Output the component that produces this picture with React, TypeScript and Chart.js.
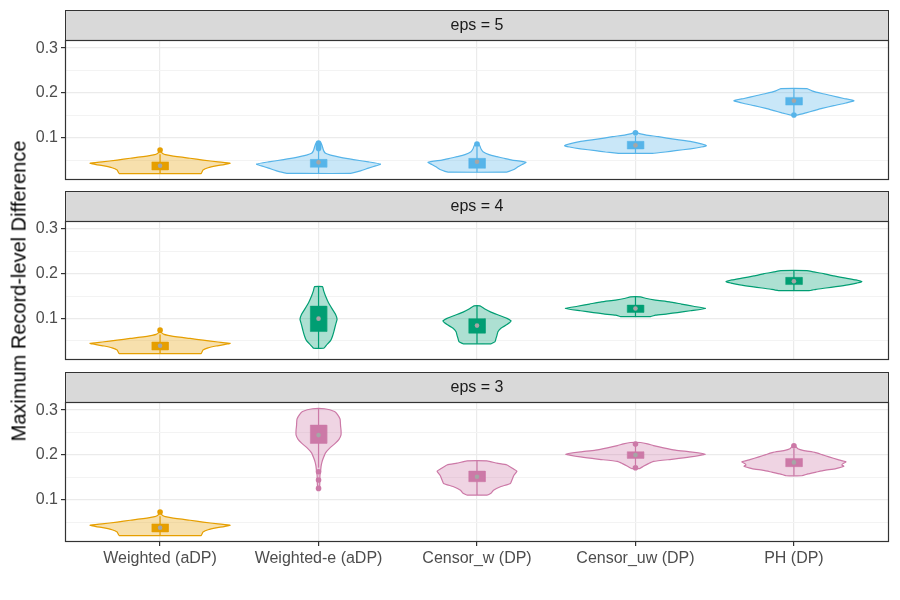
import React, { useEffect, useRef } from 'react';
import Chart from 'chart.js/auto';

// [value, half-width in category units], bottom to top
type Profile = [number, number][];

const categories = ['Weighted (aDP)', 'Weighted-e (aDP)', 'Censor_w (DP)', 'Censor_uw (DP)', 'PH (DP)'];
const stripLabels = ['eps = 5', 'eps = 4', 'eps = 3'];
const yMajorTicks = [0.1, 0.2, 0.3];
const yMinorTicks = [0.05, 0.15, 0.25];
const xTicks = [1, 2, 3, 4, 5];
const yMin = 0.0067;
const yMax = 0.318;

const weightedColor = '#E69F00';
const panelColors = ['#56B4E9', '#009E73', '#CC79A7'];

// Weighted (aDP) does not depend on eps, same violin in every panel
const weightedViolin: Profile = [
  [0.021, 0.259], [0.025, 0.265], [0.029, 0.271], [0.034, 0.303], [0.038, 0.353], [0.041, 0.404],
  [0.044, 0.442], [0.047, 0.366], [0.051, 0.271], [0.055, 0.189], [0.0585, 0.107], [0.062, 0.05],
  [0.064, 0.025], [0.068, 0.009], [0.073, 0.003],
];

// eps = 5
const eps5WeightedE: Profile = [
  [0.0215, 0.202], [0.027, 0.265], [0.033, 0.315], [0.038, 0.36], [0.042, 0.391], [0.047, 0.315],
  [0.052, 0.221], [0.057, 0.139], [0.062, 0.076], [0.066, 0.044], [0.072, 0.032], [0.08, 0.025],
  [0.086, 0.019], [0.09, 0.013],
];
const eps5CensorW: Profile = [
  [0.024, 0.177], [0.026, 0.202], [0.03, 0.233], [0.036, 0.259], [0.041, 0.284], [0.046, 0.309],
  [0.051, 0.221], [0.055, 0.17], [0.0585, 0.126], [0.063, 0.076], [0.0696, 0.038], [0.076, 0.025],
  [0.082, 0.019], [0.088, 0.009],
];
const eps5CensorUw: Profile = [
  [0.066, 0.107], [0.069, 0.189], [0.072, 0.252], [0.076, 0.347], [0.08, 0.416], [0.083, 0.448],
  [0.087, 0.416], [0.092, 0.353], [0.097, 0.252], [0.103, 0.145], [0.107, 0.063], [0.11, 0.025],
  [0.112, 0.006],
];
const eps5Ph: Profile = [
  [0.151, 0.019], [0.156, 0.076], [0.161, 0.126], [0.166, 0.177], [0.172, 0.252], [0.178, 0.328],
  [0.183, 0.379], [0.188, 0.315], [0.194, 0.24], [0.199, 0.177], [0.205, 0.114], [0.21, 0.082],
];

// eps = 4
const eps4WeightedE: Profile = [
  [0.033, 0.032], [0.04, 0.05], [0.05, 0.076], [0.06, 0.088], [0.072, 0.098], [0.085, 0.107],
  [0.098, 0.117], [0.109, 0.107], [0.12, 0.088], [0.135, 0.063], [0.15, 0.044], [0.162, 0.032],
  [0.171, 0.025],
];
const eps4CensorW: Profile = [
  [0.043, 0.088], [0.048, 0.114], [0.055, 0.12], [0.062, 0.126], [0.07, 0.132], [0.078, 0.151],
  [0.086, 0.189], [0.094, 0.215], [0.1, 0.189], [0.107, 0.139], [0.114, 0.088], [0.121, 0.05],
  [0.128, 0.019],
];
const eps4CensorUw: Profile = [
  [0.104, 0.095], [0.107, 0.126], [0.11, 0.202], [0.113, 0.265], [0.117, 0.347], [0.122, 0.442],
  [0.127, 0.366], [0.132, 0.29], [0.137, 0.215], [0.141, 0.126], [0.145, 0.063], [0.148, 0.032],
];
const eps4Ph: Profile = [
  [0.162, 0.095], [0.165, 0.139], [0.168, 0.202], [0.171, 0.265], [0.175, 0.341], [0.179, 0.397],
  [0.182, 0.429], [0.186, 0.391], [0.19, 0.328], [0.195, 0.252], [0.2, 0.189], [0.204, 0.126],
  [0.207, 0.082],
];

// eps = 3
const eps3WeightedE: Profile = [
  [0.126, 0.006], [0.14, 0.008], [0.155, 0.009], [0.165, 0.013], [0.175, 0.016], [0.185, 0.022],
  [0.195, 0.032], [0.205, 0.044], [0.215, 0.069], [0.226, 0.105], [0.235, 0.129], [0.245, 0.142],
  [0.255, 0.142], [0.265, 0.139], [0.28, 0.136], [0.29, 0.12], [0.297, 0.101], [0.303, 0.038],
];
const eps3CensorW: Profile = [
  [0.111, 0.063], [0.115, 0.088], [0.122, 0.104], [0.13, 0.151], [0.137, 0.211], [0.145, 0.221],
  [0.155, 0.233], [0.164, 0.252], [0.17, 0.227], [0.178, 0.189], [0.182, 0.126], [0.187, 0.063],
];
const eps3CensorUw: Profile = [
  [0.17, 0.025], [0.175, 0.05], [0.181, 0.082], [0.186, 0.114], [0.191, 0.24], [0.196, 0.347],
  [0.202, 0.442], [0.207, 0.347], [0.211, 0.252], [0.216, 0.177], [0.221, 0.114], [0.225, 0.076],
  [0.228, 0.032],
];
const eps3Ph: Profile = [
  [0.154, 0.05], [0.158, 0.088], [0.162, 0.139], [0.166, 0.189], [0.17, 0.265], [0.175, 0.315],
  [0.178, 0.303], [0.181, 0.309], [0.185, 0.328], [0.19, 0.278], [0.196, 0.221], [0.201, 0.177],
  [0.206, 0.132], [0.21, 0.063], [0.214, 0.025], [0.221, 0.006],
];

// box summaries, one entry per category
const eps5Q1 = [0.029, 0.035, 0.0327, 0.0756, 0.1733];
const eps5Q3 = [0.047, 0.0526, 0.0549, 0.0927, 0.1904];
const eps5Mean = [0.0385, 0.046, 0.0474, 0.0838, 0.1829];
const eps5WhiskerLo = [0.021, 0.0215, 0.024, 0.066, 0.156];
const eps5WhiskerHi = [0.064, 0.075, 0.08, 0.105, 0.21];
const eps5Outliers: [number, number][] = [
  [0, 0.0735], [1, 0.077], [1, 0.08], [1, 0.083], [1, 0.086], [1, 0.089], [2, 0.0867], [3, 0.1118], [4, 0.1511],
];

const eps4Q1 = [0.029, 0.0704, 0.0667, 0.1133, 0.1756];
const eps4Q3 = [0.047, 0.1274, 0.0993, 0.1296, 0.1919];
const eps4Mean = [0.0385, 0.0993, 0.0837, 0.1222, 0.183];
const eps4WhiskerLo = [0.021, 0.033, 0.043, 0.104, 0.162];
const eps4WhiskerHi = [0.064, 0.171, 0.128, 0.148, 0.207];
const eps4Outliers: [number, number][] = [[0, 0.0735]];

const eps3Q1 = [0.029, 0.2259, 0.1407, 0.1926, 0.1741];
const eps3Q3 = [0.047, 0.2667, 0.1644, 0.2074, 0.1926];
const eps3Mean = [0.0385, 0.2444, 0.1519, 0.2, 0.1837];
const eps3WhiskerLo = [0.021, 0.172, 0.111, 0.178, 0.154];
const eps3WhiskerHi = [0.064, 0.3037, 0.187, 0.221, 0.214];
const eps3Outliers: [number, number][] = [
  [0, 0.0735], [1, 0.163], [1, 0.1444], [1, 0.1259], [3, 0.2244], [3, 0.1719], [4, 0.2207],
];

const BOX_HALF = 0.052;
const FONT = "'Liberation Sans', Arial, sans-serif";

const withAlpha = (hex: string, a: number) => {
  const n = parseInt(hex.slice(1), 16);
  return `rgba(${(n >> 16) & 255}, ${(n >> 8) & 255}, ${n & 255}, ${a})`;
};

const isMajor = (v: number) => Math.abs(v * 10 - Math.round(v * 10)) < 1e-6;

const facetPlugin = (label: string) => ({
  id: 'facet',
  beforeDraw(chart: any) {
    const { ctx, chartArea: a } = chart;
    ctx.save();
    ctx.fillStyle = '#D9D9D9';
    ctx.fillRect(a.left, a.top - 30, a.right - a.left, 30);
    ctx.strokeStyle = '#333333';
    ctx.lineWidth = 1;
    ctx.strokeRect(a.left + 0.5, a.top - 29.5, a.right - a.left - 1, 30);
    ctx.fillStyle = '#1A1A1A';
    ctx.font = `16px ${FONT}`;
    ctx.textAlign = 'center';
    ctx.textBaseline = 'middle';
    ctx.fillText(label, (a.left + a.right) / 2, a.top - 14);
    ctx.restore();
  },
  afterDraw(chart: any) {
    const { ctx, chartArea: a } = chart;
    ctx.save();
    ctx.strokeStyle = '#333333';
    ctx.lineWidth = 1.2;
    ctx.strokeRect(a.left + 0.5, a.top + 0.5, a.right - a.left - 1, a.bottom - a.top - 1);
    ctx.restore();
  },
});

interface PanelProps {
  strip: string;
  color: string;
  violins: Profile[];
  q1: number[];
  q3: number[];
  mean: number[];
  whiskerLo: number[];
  whiskerHi: number[];
  outliers: [number, number][];
  showX: boolean;
  top: number;
  height: number;
  padBottom: number;
  xHeight: number;
}

const FacetPanel: React.FC<PanelProps> = (p) => {
  const canvasRef = useRef<HTMLCanvasElement>(null);

  useEffect(() => {
    if (!canvasRef.current) return;
    const catColor = (i: number) => (i === 0 ? weightedColor : p.color);
    const datasets: any[] = [];

    p.violins.forEach((prof, i) => {
      const c = xTicks[i];
      const left = prof.map(([v, w]) => ({ x: c - w, y: v }));
      const right = prof.slice().reverse().map(([v, w]) => ({ x: c + w, y: v }));
      datasets.push({
        data: [...left, ...right, left[0]],
        borderColor: catColor(i),
        backgroundColor: withAlpha(catColor(i), 0.32),
        borderWidth: 1.2,
        fill: 'shape',
        pointRadius: 0,
        tension: 0.15,
        order: 5,
      });
      datasets.push({
        data: [{ x: c, y: p.whiskerLo[i] }, { x: c, y: p.whiskerHi[i] }],
        borderColor: catColor(i),
        borderWidth: 1.2,
        fill: false,
        pointRadius: 0,
        order: 4,
      });
      datasets.push({
        data: [
          { x: c - BOX_HALF, y: p.q1[i] },
          { x: c - BOX_HALF, y: p.q3[i] },
          { x: c + BOX_HALF, y: p.q3[i] },
          { x: c + BOX_HALF, y: p.q1[i] },
          { x: c - BOX_HALF, y: p.q1[i] },
        ],
        borderColor: catColor(i),
        backgroundColor: catColor(i),
        borderWidth: 0.5,
        fill: 'shape',
        pointRadius: 0,
        order: 3,
      });
    });

    datasets.push({
      data: p.outliers.map(([i, v]) => ({ x: xTicks[i], y: v })),
      showLine: false,
      pointRadius: 2.8,
      pointBorderWidth: 0,
      pointBackgroundColor: p.outliers.map(([i]) => catColor(i)),
      order: 2,
    });
    datasets.push({
      data: p.mean.map((v, i) => ({ x: xTicks[i], y: v })),
      showLine: false,
      pointRadius: 2.3,
      pointBorderWidth: 0,
      pointBackgroundColor: '#A6A6A6',
      order: 1,
    });

    const chart = new Chart(canvasRef.current, {
      type: 'line',
      data: { datasets },
      plugins: [facetPlugin(p.strip)],
      options: {
        responsive: true,
        maintainAspectRatio: false,
        animation: false,
        events: [],
        layout: { autoPadding: false, padding: { top: 40, right: 11, bottom: p.padBottom, left: 0 } },
        plugins: { legend: { display: false }, tooltip: { enabled: false } },
        scales: {
          x: {
            type: 'linear',
            min: 0.4,
            max: 5.6,
            afterBuildTicks: (s: any) => {
              s.ticks = xTicks.map((v) => ({ value: v }));
            },
            afterFit: (s: any) => {
              s.height = p.xHeight;
              s.paddingLeft = 0;
              s.paddingRight = 0;
            },
            border: { display: false },
            grid: {
              color: '#EBEBEB',
              lineWidth: 1.2,
              drawTicks: p.showX,
              tickLength: 4,
              tickColor: '#333333',
            },
            ticks: {
              display: p.showX,
              padding: 3,
              color: '#4D4D4D',
              font: { family: FONT, size: 16 },
              maxRotation: 0,
              callback: (v: any) => categories[Number(v) - 1],
            },
          },
          y: {
            type: 'linear',
            min: yMin,
            max: yMax,
            afterBuildTicks: (s: any) => {
              s.ticks = [...yMinorTicks, ...yMajorTicks].sort((a, b) => a - b).map((v) => ({ value: v }));
            },
            afterFit: (s: any) => {
              // keep the panel height fixed: the tick labels sit well inside it
              s.width = 65;
              s.paddingTop = 0;
              s.paddingBottom = 0;
            },
            border: { display: false },
            grid: {
              color: (ctx: any) => (isMajor(ctx.tick.value) ? '#EBEBEB' : '#F3F3F3'),
              lineWidth: (ctx: any) => (isMajor(ctx.tick.value) ? 1.2 : 1),
              tickLength: 4,
              tickColor: (ctx: any) => (isMajor(ctx.tick.value) ? '#333333' : 'rgba(0,0,0,0)'),
            },
            ticks: {
              padding: 3,
              color: '#4D4D4D',
              font: { family: FONT, size: 16 },
              callback: (v: any) => (isMajor(Number(v)) ? Number(v).toFixed(1) : ''),
            },
          },
        },
      },
    });

    return () => {
      chart.destroy();
    };
  }, [p]);

  return (
    <div style={{ position: 'absolute', left: 0, top: p.top, width: 900, height: p.height }}>
      <canvas ref={canvasRef} />
    </div>
  );
};

const panels: PanelProps[] = [
  {
    strip: stripLabels[0], color: panelColors[0],
    violins: [weightedViolin, eps5WeightedE, eps5CensorW, eps5CensorUw, eps5Ph],
    q1: eps5Q1, q3: eps5Q3, mean: eps5Mean, whiskerLo: eps5WhiskerLo, whiskerHi: eps5WhiskerHi,
    outliers: eps5Outliers, showX: false, top: 0, height: 181, padBottom: 1, xHeight: 0,
  },
  {
    strip: stripLabels[1], color: panelColors[1],
    violins: [weightedViolin, eps4WeightedE, eps4CensorW, eps4CensorUw, eps4Ph],
    q1: eps4Q1, q3: eps4Q3, mean: eps4Mean, whiskerLo: eps4WhiskerLo, whiskerHi: eps4WhiskerHi,
    outliers: eps4Outliers, showX: false, top: 181, height: 180, padBottom: 1, xHeight: 0,
  },
  {
    strip: stripLabels[2], color: panelColors[2],
    violins: [weightedViolin, eps3WeightedE, eps3CensorW, eps3CensorUw, eps3Ph],
    q1: eps3Q1, q3: eps3Q3, mean: eps3Mean, whiskerLo: eps3WhiskerLo, whiskerHi: eps3WhiskerHi,
    outliers: eps3Outliers, showX: true, top: 362, height: 238, padBottom: 0, xHeight: 58,
  },
];

export default function App() {
  return (
    <div style={{ position: 'absolute', left: 0, top: 0, width: 900, height: 600, background: '#FFFFFF', fontFamily: FONT }}>
      {panels.map((p) => (
        <FacetPanel key={p.strip} {...p} />
      ))}
      <div
        style={{
          position: 'absolute',
          left: 19,
          top: 291,
          transform: 'translate(-50%, -50%) rotate(-90deg)',
          whiteSpace: 'nowrap',
          fontSize: 20,
          color: '#000000',
        }}
      >
        Maximum Record-level Difference
      </div>
    </div>
  );
}
